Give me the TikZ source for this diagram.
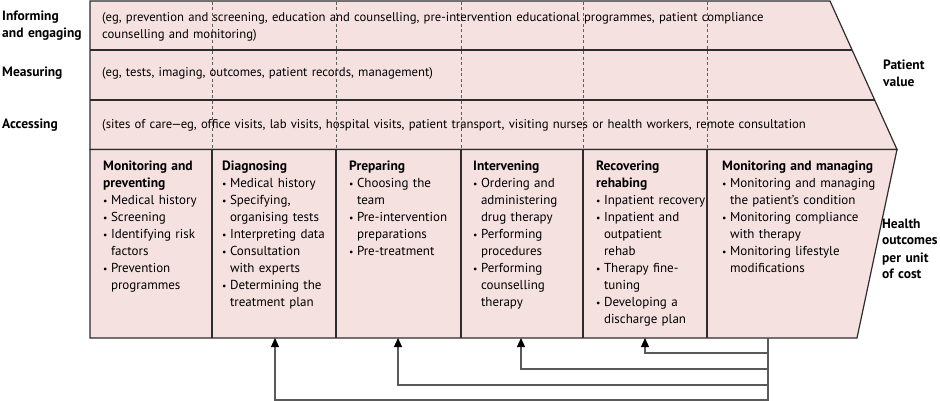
\documentclass[tikz,border=0pt]{standalone}
\usepackage{graphicx}
\usepackage{fontspec}
\setmainfont{PT Sans}
\usetikzlibrary{arrows.meta}
\definecolor{bandfill}{RGB}{245,225,224}
\definecolor{edgec}{RGB}{45,45,45}
\definecolor{dashc}{RGB}{95,95,95}
\definecolor{fbc}{RGB}{90,90,90}
\newcommand\bu{\makebox[7.8pt][l]{\raisebox{0.15ex}{\scalebox{0.75}{•}}}}
\newcommand\hi{\hspace*{7.8pt}}
\newcommand\hd[1]{{\bfseries\fontsize{13.5}{17}\selectfont #1}}
\tikzset{
  sidelab/.style={anchor=base west, inner sep=0pt, font=\bfseries\fontsize{13.5}{17}\selectfont, text width=95pt, align=left},
  rowtxt/.style={anchor=base west, inner sep=0pt, font=\fontsize{12.7}{17}\selectfont, text width=760pt, align=left},
  coltxt/.style={anchor=base west, inner sep=0pt, font=\fontsize{13}{17}\selectfont, text width=160pt, align=left},
  band/.style={fill=bandfill, draw=edgec, line width=1.2pt, line join=miter},
  divider/.style={draw=edgec, line width=1.2pt},
  dashdiv/.style={draw=dashc, line width=0.8pt, dash pattern=on 3pt off 2.5pt},
  fb/.style={draw=fbc, line width=1.2pt, -{Triangle[length=9pt,width=8pt,color=black]}},
}
\begin{document}
\begin{tikzpicture}[x=1pt,y=-1pt]
\useasboundingbox (0,0) rectangle (940,401);
% bands
\path[band] (90,1) -- (830,1) -- (897,149.5) -- (90,149.5) -- cycle;
\path[band] (90,149.5) -- (897,149.5) -- (857,338) -- (90,338) -- cycle;
% row separators
\draw[divider] (90,50) -- (852.1,50);
\draw[divider] (90,100) -- (874.7,100);
% dashed column guides in upper band
\foreach \x in {212,336,461,583,707} {
  \draw[dashdiv] (\x,2) -- (\x,148.5);
  \draw[divider] (\x,149.5) -- (\x,338);
}
% side labels
\node[sidelab] (informing) at (2,21) {Informing\\and engaging};
\node[sidelab] (measuring) at (2,77) {Measuring};
\node[sidelab] (accessing) at (2,129) {Accessing};
\node[sidelab] (pvalue) at (883,70) {Patient\\value};
\node[sidelab] (health) at (882,228) {Health\\outcomes\\per unit\\of cost};
% row texts
\node[rowtxt] (r1) at (102,22) {(eg, prevention and screening, education and counselling, pre-intervention educational programmes, patient compliance\\counselling and monitoring)};
\node[rowtxt] (r2) at (102,77) {(eg, tests, imaging, outcomes, patient records, management)};
\node[rowtxt] (r3) at (102,129) {(sites of care\kern-1pt—\kern-1pt eg, office visits, lab visits, hospital visits, patient transport, visiting nurses or health workers, remote consultation};
% column texts
\node[coltxt] (c1) at (103,171) {\hd{Monitoring and}\\\hd{preventing}\\\bu Medical history\\\bu Screening\\\bu Identifying risk\\\hi factors\\\bu Prevention\\\hi programmes};
\node[coltxt] (c2) at (222,171) {\hd{Diagnosing}\\\bu Medical history\\\bu Specifying,\\\hi organising tests\\\bu Interpreting data\\\bu Consultation\\\hi with experts\\\bu Determining the\\\hi treatment plan};
\node[coltxt] (c3) at (349,171) {\hd{Preparing}\\\bu Choosing the\\\hi team\\\bu Pre-intervention\\\hi preparations\\\bu Pre-treatment};
\node[coltxt] (c4) at (473,171) {\hd{Intervening}\\\bu Ordering and\\\hi administering\\\hi drug therapy\\\bu Performing\\\hi procedures\\\bu Performing\\\hi counselling\\\hi therapy};
\node[coltxt] (c5) at (596,171) {\hd{Recovering}\\\hd{rehabing}\\\bu Inpatient recovery\\\bu Inpatient and\\\hi outpatient\\\hi rehab\\\bu Therapy fine-\\\hi tuning\\\bu Developing a\\\hi discharge plan};
\node[coltxt] (c6) at (722,171) {\hd{Monitoring and managing}\\\bu Monitoring and managing\\\hi the patient’s condition\\\bu Monitoring compliance\\\hi with therapy\\\bu Monitoring lifestyle\\\hi modifications};
% feedback connectors
\coordinate (src) at (768,338);
\coordinate (b2) at (275,338);
\coordinate (b3) at (398,338);
\coordinate (b4) at (521,338);
\coordinate (b5) at (645,338);
\coordinate (k2) at (275,400);
\coordinate (k3) at (398,385);
\coordinate (k4) at (521,369);
\coordinate (k5) at (645,353);
\draw[fb] (src) |- (k2) -- (b2);
\draw[fb] (src) |- (k3) -- (b3);
\draw[fb] (src) |- (k4) -- (b4);
\draw[fb] (src) |- (k5) -- (b5);
\end{tikzpicture}
\end{document}
